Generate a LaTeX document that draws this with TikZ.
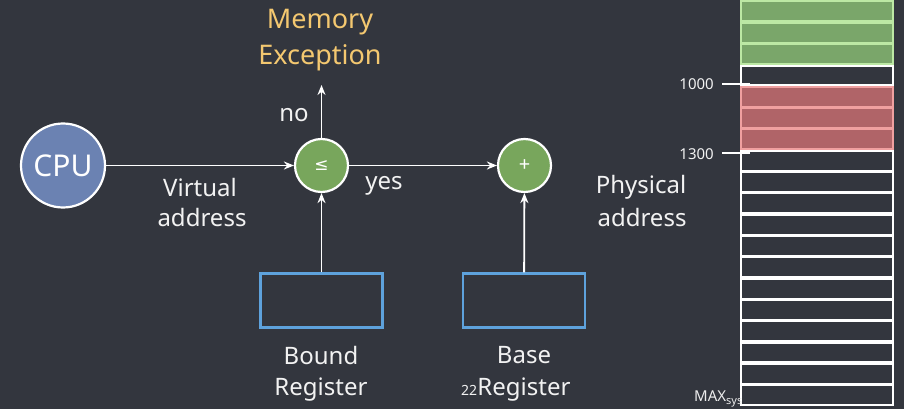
\documentclass[tikz,border=0pt]{standalone}
\usepackage{fontspec}
\setmainfont{Noto Sans}
\newfontfamily\symfont{DejaVu Sans}
\usetikzlibrary{arrows.meta}
\definecolor{bg}{HTML}{33363E}
\definecolor{cpublue}{HTML}{6B82B2}
\definecolor{opgreen}{HTML}{78A65C}
\definecolor{regblue}{HTML}{5EA2DC}
\definecolor{excyellow}{HTML}{F4C870}
\definecolor{memgreen}{HTML}{7AA66A}
\definecolor{memgreenline}{HTML}{BCE8A4}
\definecolor{memred}{HTML}{B06468}
\definecolor{memredline}{HTML}{F0A0A0}
\definecolor{txt}{HTML}{F2F2F2}
\newcommand{\fs}[1]{\fontsize{#1}{#1}\selectfont}
\begin{document}
\begin{tikzpicture}[x=1pt,y=-1pt,
  arr/.style={draw=white, line width=1.8pt, -{Stealth[length=10pt,width=8pt]}},
  opnode/.style={circle, draw=white, line width=2.2pt, fill=opgreen, minimum size=53pt, inner sep=0pt, text=white, font=\fs{20}},
  regbox/.style={draw=regblue, line width=2.2pt, minimum width=122pt, minimum height=54pt, inner sep=0pt},
  lbl/.style={text=txt, font=\fs{24}, align=center, inner sep=0pt},
  small/.style={text=txt, font=\fs{15}, inner sep=0pt},
  row/.style={draw=white, line width=2pt, fill=bg}
]
\fill[bg] (0,0) rectangle (904,409);
\useasboundingbox (0,0) rectangle (904,409);

% memory column
\begin{scope}
\clip (0,0) rectangle (904,409);
\foreach \k in {3,...,14} {
  \draw[row] (741,{86+21.33*\k+0.8}) rectangle (893,{86+21.33*(\k+1)-0.8});
}
\draw[row] (741,{86-21.33+1}) rectangle (893,{86-1});
\foreach \k in {-5,...,-2} {
  \draw[draw=memgreenline, line width=1.8pt, fill=memgreen] (741,{86+21.33*\k+0.8}) rectangle (893,{86+21.33*(\k+1)-0.8});
}
\foreach \k in {0,1,2} {
  \draw[draw=memredline, line width=1.8pt, fill=memred] (741,{86+21.33*\k+0.8}) rectangle (893,{86+21.33*(\k+1)-0.8});
}
\end{scope}
\draw[white, line width=2pt] (722,84) -- (750,84);
\draw[white, line width=2pt] (722,153) -- (750,153);
\node[small, anchor=east] (m1000) at (714,84) {1000};
\node[small, anchor=east] (m1300) at (714,154) {1300};
\node[small, anchor=west, text=white!85!gray] (max) at (694,399) {MAX\raisebox{-2.5pt}{\fs{11}sys}};

% main diagram
\node[circle, draw=white, line width=2.2pt, fill=cpublue, minimum size=84pt, inner sep=0pt, text=white, font=\fs{30}] (cpu) at (63,165.5) {CPU};
\node[opnode, font=\symfont\fs{17}] (cmp) at (321.5,165.5) {≤};
\node[opnode] (add) at (524.5,165.5) {+};
\node[regbox] (bound) at (321.5,300.5) {};
\node[regbox] (base) at (524,300.5) {};
\coordinate (exc) at (321.5,85);

\node[text=excyellow, font=\fs{27}, inner sep=0pt] (mem1) at (320,22) {Memory};
\node[text=excyellow, font=\fs{27}, inner sep=0pt] (mem2) at (320,58) {Exception};

\draw[arr] (cpu) -- (cmp);
\draw[arr] (cmp) -- (add);
\draw[arr] (cmp) -- (exc);
\draw[arr] (bound) -- (cmp);
\draw[arr] (base) -- (add);

\node[lbl] (no) at (294,115) {no};
\node[lbl] (yes) at (384,186) {yes};
\node[lbl] (virt1) at (200,187) {Virtual};
\node[lbl] (virt2) at (202,217) {address};
\node[lbl] (phys1) at (641,187) {Physical};
\node[lbl] (phys2) at (642,217) {address};
\node[lbl] (bnd1) at (321,355) {Bound};
\node[lbl] (bnd2) at (321,390) {Register};
\node[lbl] (bas1) at (524,355) {Base};
\node[lbl] (bas2) at (524,390) {Register};
\node[small, anchor=base east, font=\fs{14}] (pg) at (bas2.base west) {22};
\end{tikzpicture}
\end{document}
